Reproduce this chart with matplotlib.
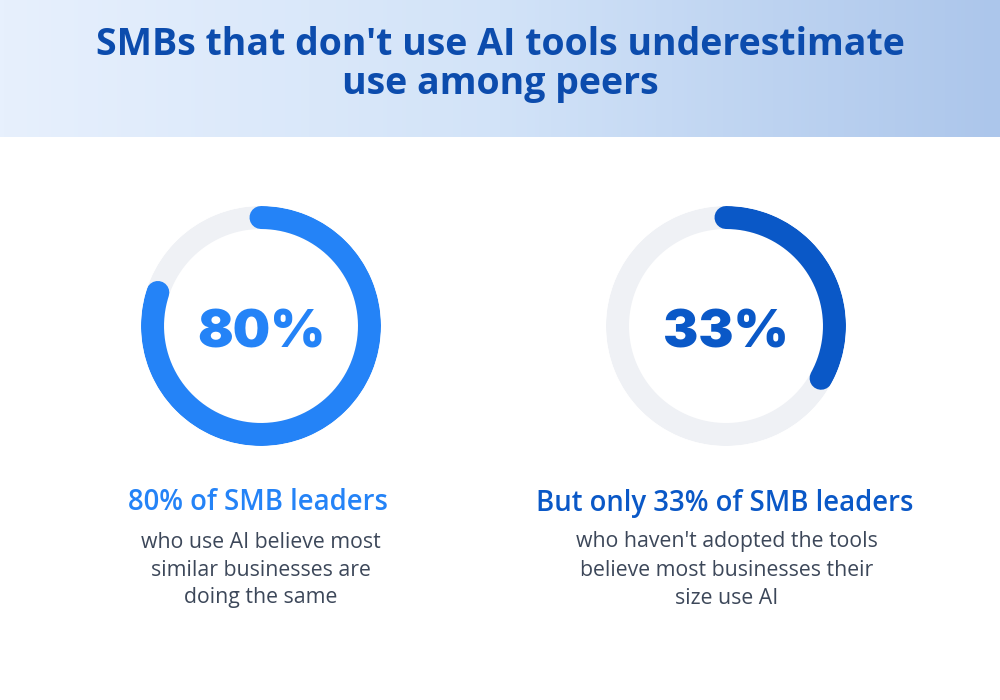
import numpy as np
import matplotlib
matplotlib.use("Agg")
import matplotlib.pyplot as plt
from matplotlib.colors import LinearSegmentedColormap

# ---- data ----
title_lines = ["SMBs that don't use AI tools underestimate", "use among peers"]
values = [80, 33]
value_labels = ["80%", "33%"]
headlines = ["80% of SMB leaders", "But only 33% of SMB leaders"]
bodies = [
    ["who use AI believe most", "similar businesses are", "doing the same"],
    ["who haven't adopted the tools", "believe most businesses their", "size use AI"],
]
colors = ["#2483F7", "#0A58C7"]

TRACK = "#EFF1F5"
TITLE_C = "#0C4CAD"
BODY_C = "#3C4759"
FONT = ["Open Sans", "DejaVu Sans"]
NUMFONT = ["Inter", "DejaVu Sans"]

W, H = 1000, 700
fig = plt.figure(figsize=(10, 7), dpi=100)
fig.patch.set_facecolor("white")
bg = fig.add_axes([0, 0, 1, 1])
bg.set_xlim(0, W)
bg.set_ylim(H, 0)
bg.axis("off")

# header gradient
grad = np.linspace(0, 1, 256).reshape(1, -1)
cmap = LinearSegmentedColormap.from_list("hdr", ["#E7F0FD", "#D2E3F8", "#ACC6EB"])
bg.imshow(grad, extent=[0, W, 137, 0], cmap=cmap, aspect="auto", zorder=0)

bg.text(500, 45, title_lines[0], ha="center", va="center", fontsize=27,
        fontweight="bold", color=TITLE_C, family=FONT)
bg.text(500, 84, title_lines[1], ha="center", va="center", fontsize=27,
        fontweight="bold", color=TITLE_C, family=FONT)

centers = [(261, 326), (726, 326)]
R = 120
ring_px = 23
lw_pt = ring_px * 72 / 100

for i, (cx, cy) in enumerate(centers):
    ax = fig.add_axes([(cx - R) / W, (H - cy - R) / H, 2 * R / W, 2 * R / H],
                      projection="polar")
    ax.set_theta_zero_location("N")
    ax.set_theta_direction(-1)
    ax.set_ylim(0, 1)
    ax.axis("off")
    ax.patch.set_alpha(0)
    rr = (R - ring_px / 2) / R
    th_full = np.linspace(0, 2 * np.pi, 400)
    ax.plot(th_full, np.full_like(th_full, rr), color=TRACK, lw=lw_pt,
            solid_capstyle="butt")
    th = np.linspace(0, 2 * np.pi * values[i] / 100, 300)
    ax.plot(th, np.full_like(th, rr), color=colors[i], lw=lw_pt,
            solid_capstyle="round")
    bg.text(cx, cy + 8, value_labels[i], ha="center", va="center", fontsize=38,
            fontweight="black", color=colors[i], family=NUMFONT)

    hx = [258, 725][i]
    bg.text(hx, 503, headlines[i], ha="center", va="center", fontsize=19.8,
            fontweight="semibold", color=colors[i], family=FONT)
    for j, line in enumerate(bodies[i]):
        bg.text(hx + (3 if i == 0 else 2), 542 + 28 * j, line, ha="center",
                va="center", fontsize=15.3, color=BODY_C, family=FONT)

fig.savefig("out.png", dpi=100, facecolor="white")
